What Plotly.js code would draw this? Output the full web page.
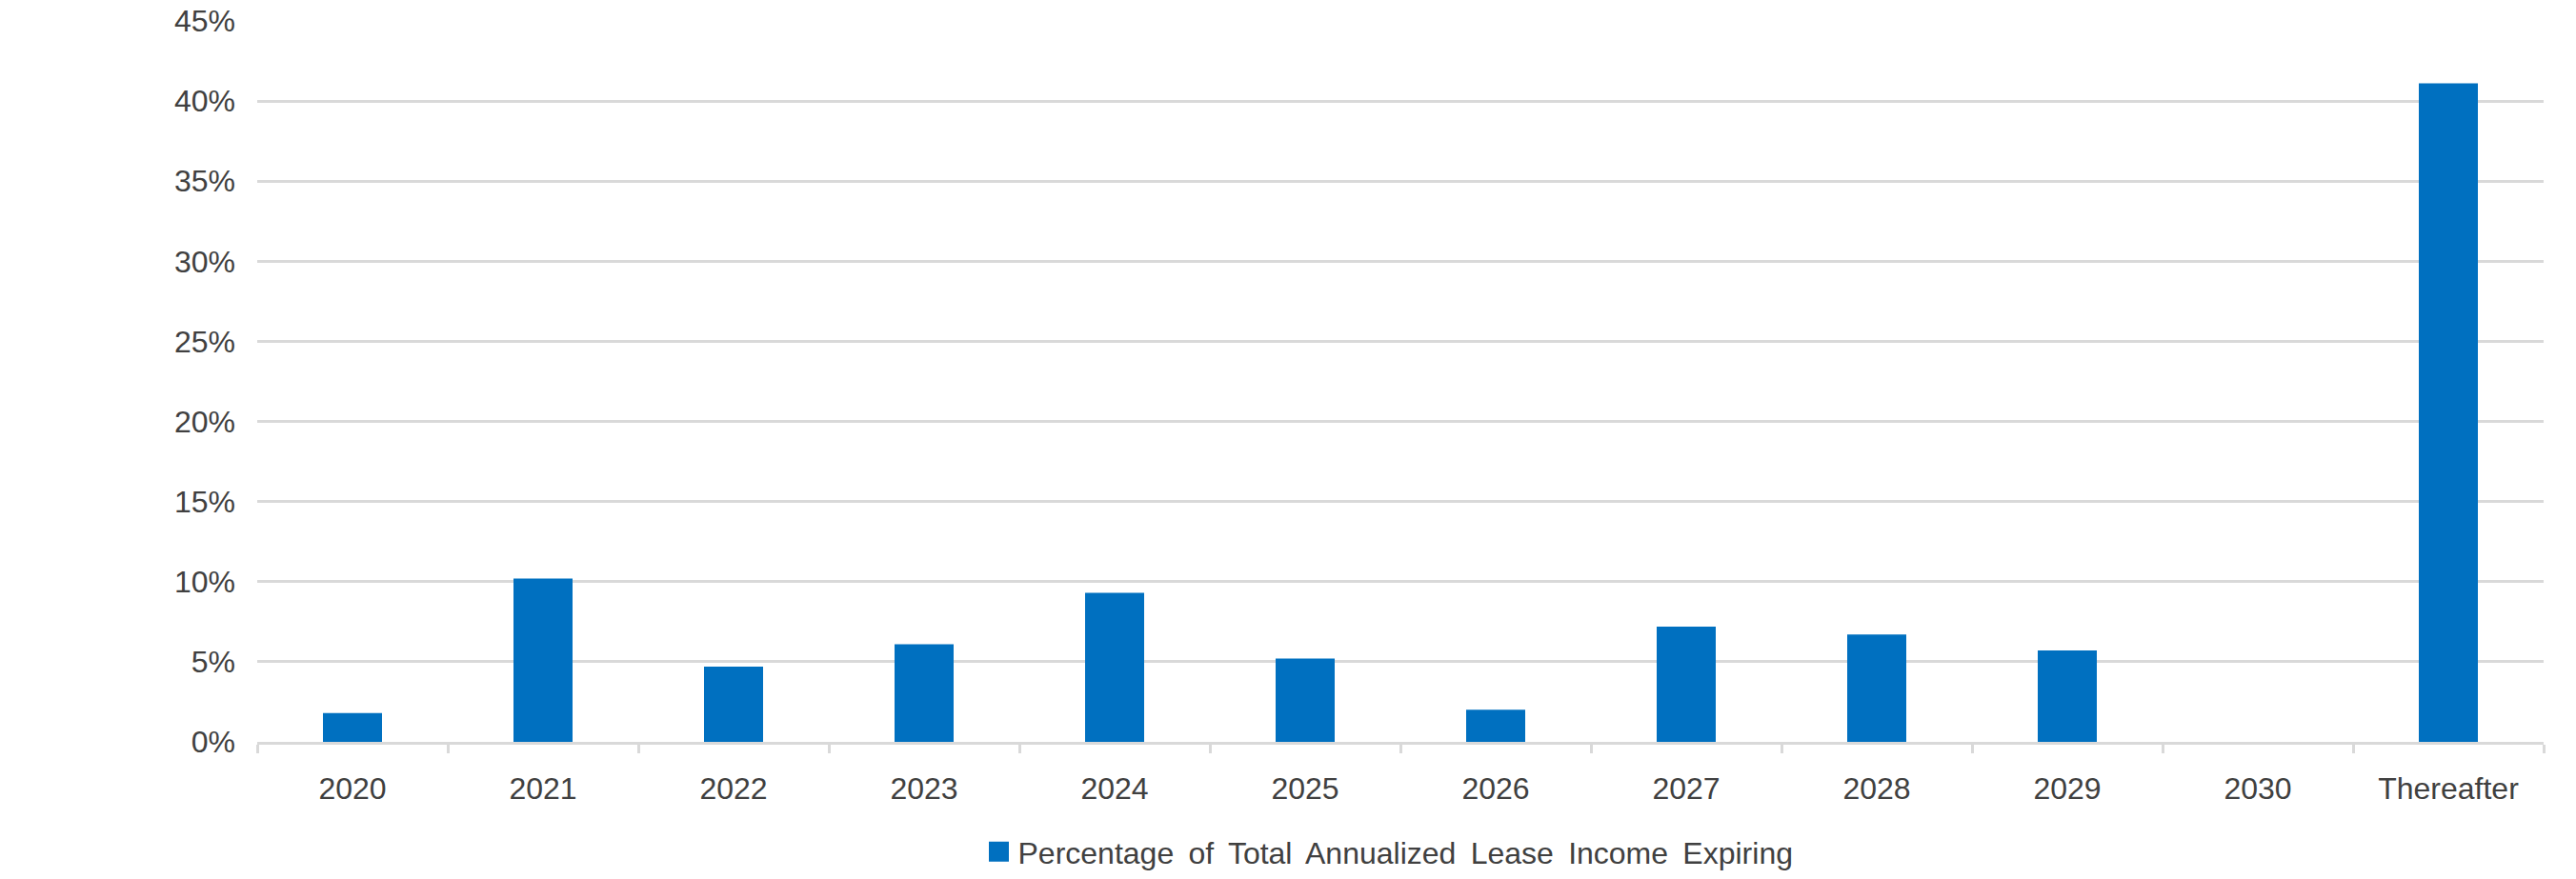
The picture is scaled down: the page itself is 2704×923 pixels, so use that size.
<!DOCTYPE html>
<html>
<head>
<meta charset="utf-8">
<script src="https://cdn.plot.ly/plotly-3.0.1.min.js"></script>
<style>
  html, body { margin: 0; padding: 0; background: #fff; }
  #chart { width: 2704px; height: 923px; }
</style>
</head>
<body>
<div id="chart"></div>
<script>
// lease expirations by year, % of total annualized lease income
let years = ["2020", "2021", "2022", "2023", "2024", "2025", "2026", "2027", "2028", "2029", "2030", "Thereafter"];
let pctExpiring = [1.8, 10.2, 4.7, 6.1, 9.3, 5.2, 2.0, 7.2, 6.7, 5.7, 0, 41.1];
let seriesName = "Percentage\u2009 of\u2009 Total\u2009 Annualized\u2009 Lease\u2009 Income\u2009 Expiring";

let blue = "#0070c0";
let grid = "#d9d9d9";
let textColor = "#404040";

let bars = {
    x: years,
    y: pctExpiring,
    type: "bar",
    marker: {color: blue},
    showlegend: false,
    hoverinfo: "x+y"
};

// legend entry only (bar legend squares are too small)
let legendKey = {
    x: [null],
    y: [null],
    type: "scatter",
    mode: "markers",
    name: seriesName,
    marker: {color: blue, symbol: "square", size: 16, line: {color: blue, width: 5}},
    showlegend: true
};

let layout = {
    width: 2704,
    height: 923,
    margin: {l: 270, r: 34, t: 22, b: 144},
    paper_bgcolor: "#ffffff",
    plot_bgcolor: "#ffffff",
    font: {family: "Liberation Sans, Arial, sans-serif", size: 32, color: textColor},
    bargap: 0.69,
    xaxis: {
        type: "category",
        categoryorder: "array",
        categoryarray: years,
        showgrid: false,
        showline: true,
        linecolor: grid,
        linewidth: 3,
        ticks: "outside",
        tickson: "boundaries",
        ticklen: 9,
        tickwidth: 3,
        tickcolor: grid,
        ticklabelstandoff: 19,
        zeroline: false,
        fixedrange: true
    },
    yaxis: {
        range: [0, 45],
        dtick: 5,
        tick0: 0,
        ticksuffix: "%",
        showgrid: true,
        gridcolor: grid,
        gridwidth: 3,
        showline: false,
        zeroline: false,
        ticks: "",
        ticklabelstandoff: 22,
        fixedrange: true
    },
    legend: {
        orientation: "h",
        x: 0.495,
        xanchor: "center",
        yref: "container",
        y: 0.031,
        yanchor: "middle",
        font: {size: 32, color: textColor},
        bgcolor: "rgba(0,0,0,0)"
    },
    showlegend: true
};

Plotly.newPlot("chart", [bars, legendKey], layout, {displayModeBar: false, staticPlot: true});
</script>
</body>
</html>
